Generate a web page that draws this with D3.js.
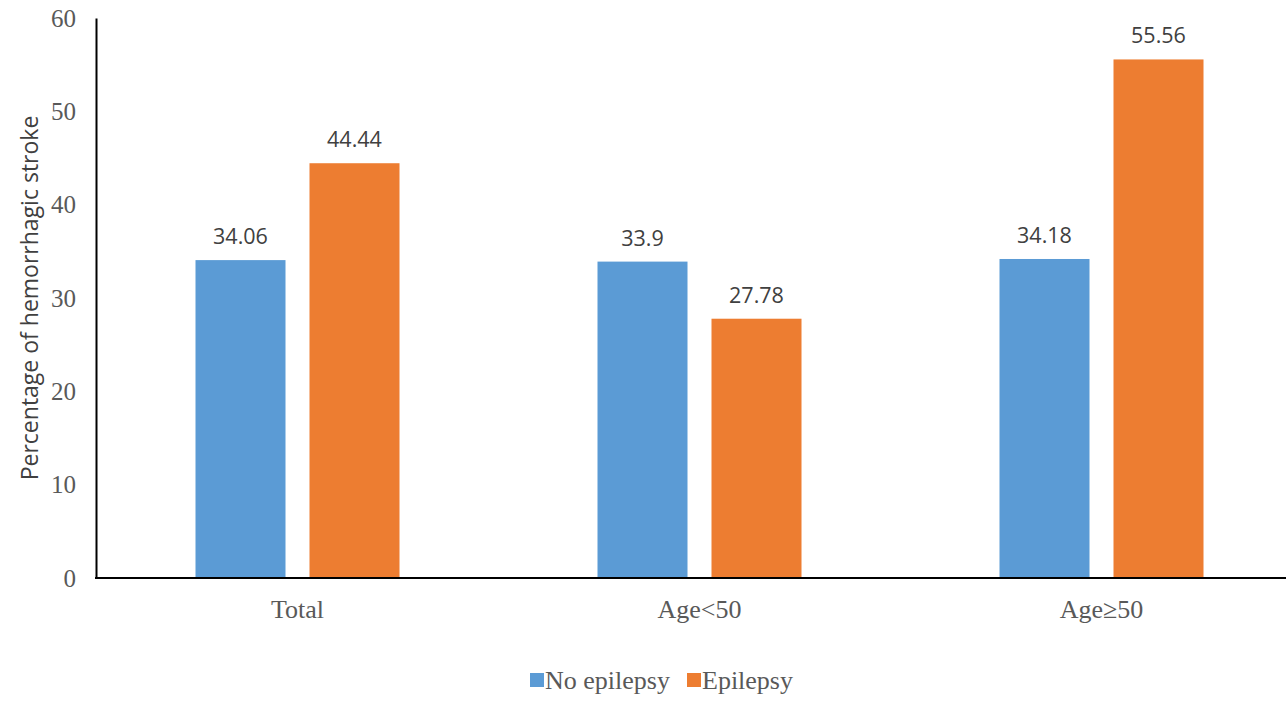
<!DOCTYPE html>
<html>
<head>
<meta charset="utf-8">
<script src="https://cdn.jsdelivr.net/npm/d3@7"></script>
<style>
  html, body { margin: 0; padding: 0; background: #fff; }
  svg { display: block; }
</style>
</head>
<body>
<svg id="chart" width="1286" height="701"></svg>
<script>
const categories = ["Total", "Age<50", "Age\u226550"];
const seriesNames = ["No epilepsy", "Epilepsy"];
const noEpilepsy = [34.06, 33.9, 34.18];
const epilepsy = [44.44, 27.78, 55.56];
const yTicks = [0, 10, 20, 30, 40, 50, 60];
const colors = ["#5B9BD5", "#ED7D31"];
const yTitle = "Percentage of hemorrhagic stroke";

const seriesValues = [noEpilepsy, epilepsy];
const svg = d3.select("#chart");

const x0 = d3.scaleBand().domain(categories).range([96.5, 1302.5]).padding(0);
const x1 = d3.scaleBand().domain(seriesNames).range([99, 303]).paddingInner(0.2105).paddingOuter(0);
const y = d3.scaleLinear().domain([0, 60]).range([578, 18]);

// bars
categories.forEach((c, i) => {
  seriesNames.forEach((s, j) => {
    const v = seriesValues[j][i];
    const bx = x0(c) + x1(s);
    svg.append("rect")
      .attr("x", bx).attr("y", y(v))
      .attr("width", x1.bandwidth()).attr("height", y(0) - y(v))
      .attr("fill", colors[j]);
    svg.append("text")
      .attr("x", bx + x1.bandwidth() / 2)
      .attr("y", y(v) - 16)
      .attr("text-anchor", "middle")
      .attr("font-family", "'Open Sans', sans-serif")
      .attr("font-size", 21.5)
      .attr("fill", "#404040")
      .text(String(v));
  });
});

// y axis
const yAxis = d3.axisLeft(y).tickValues(yTicks).tickSize(0).tickPadding(20);
const gy = svg.append("g").attr("transform", "translate(96,0)").call(yAxis);
gy.select(".domain").attr("stroke", "#000").attr("stroke-width", 2);
gy.selectAll("text")
  .attr("font-family", "'Liberation Serif', 'Times New Roman', serif")
  .attr("font-size", 25)
  .attr("fill", "#595959");

// x axis
const xAxis = d3.axisBottom(x0).tickSize(0).tickPadding(22);
const gx = svg.append("g").attr("transform", "translate(0,578)").call(xAxis);
gx.select(".domain").remove();
svg.append("line").attr("x1", 95).attr("x2", 1286).attr("y1", 578).attr("y2", 578)
  .attr("stroke", "#000").attr("stroke-width", 2);
gx.selectAll("text")
  .attr("font-family", "'Liberation Serif', 'Times New Roman', serif")
  .attr("font-size", 26)
  .attr("fill", "#595959");

// y title
svg.append("text")
  .attr("transform", "translate(38,298) rotate(-90)")
  .attr("text-anchor", "middle")
  .attr("font-family", "'Open Sans', sans-serif")
  .attr("font-size", 23)
  .attr("fill", "#404040")
  .text(yTitle);

// legend
const legendItems = [{ name: seriesNames[0], x: 530 }, { name: seriesNames[1], x: 687 }];
legendItems.forEach((d, j) => {
  svg.append("rect").attr("x", d.x).attr("y", 673).attr("width", 14).attr("height", 14).attr("fill", colors[j]);
  svg.append("text").attr("x", d.x + 15).attr("y", 689)
    .attr("font-family", "'Liberation Serif', 'Times New Roman', serif")
    .attr("font-size", 26)
    .attr("fill", "#595959")
    .text(d.name);
});
</script>
</body>
</html>
